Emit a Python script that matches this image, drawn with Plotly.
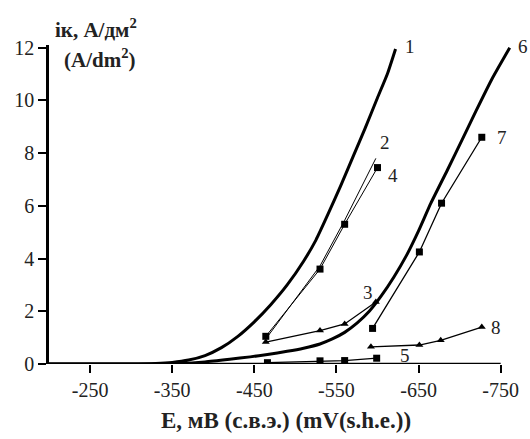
import plotly.graph_objects as go

# Curve 1 (thick, smooth)
E1 = [-200, -250, -300, -330, -350, -370, -390, -410, -430, -450, -470, -490, -510, -525, -540, -555, -570, -585, -600, -612, -622]
i1 = [0, 0, 0, 0.02, 0.06, 0.15, 0.32, 0.62, 1.05, 1.6, 2.25, 3.0, 3.9, 4.7, 5.7, 6.75, 7.85, 8.95, 10.1, 11.0, 11.95]

# Curve 6 (thick, smooth)
E6 = [-200, -300, -360, -390, -420, -445, -466, -490, -510, -530, -545, -560, -575, -590, -605, -620, -635, -650, -665, -685, -703, -720, -740, -761]
i6 = [0, 0, 0.02, 0.08, 0.18, 0.27, 0.36, 0.48, 0.6, 0.76, 0.95, 1.2, 1.55, 2.0, 2.6, 3.3, 4.1, 5.05, 6.1, 7.35, 8.5, 9.6, 10.85, 12.0]

# Curve 2 (thin line)
E2 = [-464, -530, -560, -598]
i2 = [0.95, 3.72, 5.45, 7.8]

# Curve 4 (squares)
E4 = [-464, -530, -560, -600]
i4 = [1.05, 3.6, 5.3, 7.45]

# Curve 3 (triangles)
E3 = [-464, -530, -560, -598]
i3 = [0.83, 1.27, 1.52, 2.35]

# Curve 5 (squares)
E5 = [-466, -530, -560, -599]
i5 = [0.05, 0.12, 0.13, 0.22]

# Curve 7 (squares)
E7 = [-594, -651, -678, -727]
i7 = [1.35, 4.25, 6.1, 8.6]

# Curve 8 (triangles)
E8 = [-592, -651, -677, -727]
i8 = [0.65, 0.72, 0.9, 1.4]

# Curve labels (data coordinates), label 6 lies right of the plot area
lab_text = ["1", "2", "3", "4", "5", "7", "8"]
lab_x = [-639, -609, -588, -619, -633, -752, -744]
lab_y = [12.04, 8.39, 2.7, 7.14, 0.34, 8.58, 1.37]
lab6 = "6"

x_ticks = [-250, -350, -450, -550, -650, -750]
y_ticks = [0, 2, 4, 6, 8, 10, 12]

FONT = "Liberation Serif, Times New Roman, serif"

fig = go.Figure()

fig.add_trace(go.Scatter(x=E1, y=i1, mode="lines", line=dict(color="black", width=3, shape="spline", smoothing=0.5)))
fig.add_trace(go.Scatter(x=E6, y=i6, mode="lines", line=dict(color="black", width=3, shape="spline", smoothing=0.5)))
fig.add_trace(go.Scatter(x=E2, y=i2, mode="lines", line=dict(color="black", width=1)))
fig.add_trace(go.Scatter(x=E4, y=i4, mode="lines+markers", line=dict(color="black", width=1),
                         marker=dict(symbol="square", size=7, color="black")))
fig.add_trace(go.Scatter(x=E3, y=i3, mode="lines+markers", line=dict(color="black", width=1.3),
                         marker=dict(symbol="triangle-up", size=7, color="black")))
fig.add_trace(go.Scatter(x=E5, y=i5, mode="lines+markers", line=dict(color="black", width=1.3),
                         marker=dict(symbol="square", size=7, color="black")))
fig.add_trace(go.Scatter(x=E7, y=i7, mode="lines+markers", line=dict(color="black", width=1.3),
                         marker=dict(symbol="square", size=7, color="black")))
fig.add_trace(go.Scatter(x=E8, y=i8, mode="lines+markers", line=dict(color="black", width=1.3),
                         marker=dict(symbol="triangle-up", size=7, color="black")))

annotations = []
for t, x, y in zip(lab_text, lab_x, lab_y):
    annotations.append(dict(x=x, y=y, xref="x", yref="y", text=t, showarrow=False,
                            xanchor="center", yanchor="middle",
                            font=dict(family=FONT, size=19, color="#222")))
annotations.append(dict(x=1.0216, y=0.995, xref="paper", yref="paper", text=lab6, showarrow=False,
                        xanchor="center", yanchor="middle",
                        font=dict(family=FONT, size=19, color="#222")))

annotations.append(dict(x=0.51, y=-0.176, xref="paper", yref="paper",
                        text="<b>E, мВ (с.в.э.) (mV(s.h.e.))</b>", showarrow=False,
                        xanchor="center", yanchor="middle",
                        font=dict(family=FONT, size=23, color="#222")))
annotations.append(dict(x=0.0086, y=1.053, xref="paper", yref="paper",
                        text="<b>iк, А/дм<sup>2</sup></b>", showarrow=False,
                        xanchor="left", yanchor="middle",
                        font=dict(family=FONT, size=21, color="#222")))
annotations.append(dict(x=0.028, y=0.959, xref="paper", yref="paper",
                        text="<b>(A/dm<sup>2</sup>)</b>", showarrow=False,
                        xanchor="left", yanchor="middle",
                        font=dict(family=FONT, size=21, color="#222")))

fig.add_shape(type="line", xref="x", yref="y", x0=-200, x1=-750, y0=0, y1=0,
              line=dict(color="black", width=2.5))

fig.update_layout(
    width=530, height=439,
    margin=dict(l=49, r=17, t=45, b=75),
    plot_bgcolor="white", paper_bgcolor="white",
    showlegend=False,
    font=dict(family=FONT, size=19, color="#222"),
    annotations=annotations,
    xaxis=dict(range=[-200, -765], tickvals=x_ticks, ticktext=[str(v) for v in x_ticks],
               ticks="outside", ticklen=8, tickwidth=2, tickcolor="black",
               showline=False, showgrid=False, zeroline=False,
               tickfont=dict(family=FONT, size=20, color="#222")),
    yaxis=dict(range=[0, 12.1], tickvals=y_ticks, ticktext=[str(v) for v in y_ticks],
               ticks="outside", ticklen=8, tickwidth=2, tickcolor="black",
               showline=True, linewidth=2.5, linecolor="black",
               showgrid=False, zeroline=False,
               tickfont=dict(family=FONT, size=20, color="#222")),
)

fig.write_html("out.html", config={"displayModeBar": False},
               post_script="document.body.style.margin='0px';document.body.style.overflow='hidden';")
